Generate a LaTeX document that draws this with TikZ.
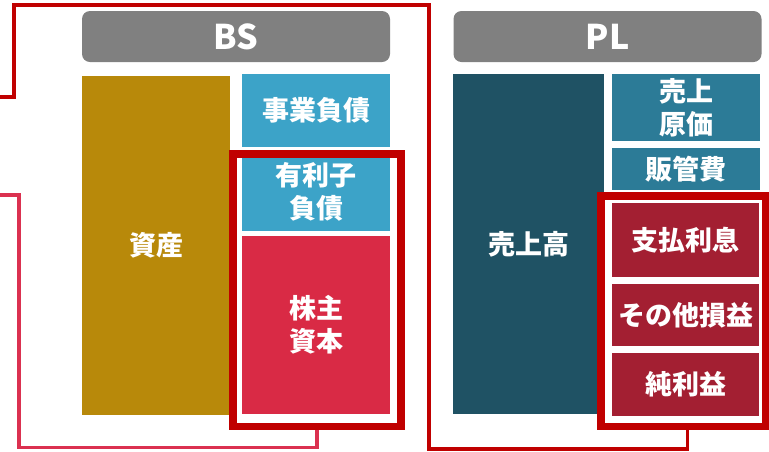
\documentclass[tikz,border=0pt]{standalone}
\usepackage{fontspec}
\setmainfont{Noto Sans CJK JP}
\definecolor{hdr}{HTML}{808080}
\definecolor{gold}{HTML}{B8890A}
\definecolor{lblue}{HTML}{3CA3C8}
\definecolor{crim}{HTML}{D92A45}
\definecolor{dteal}{HTML}{1F5264}
\definecolor{mteal}{HTML}{2C7B97}
\definecolor{dred}{HTML}{A31F32}
\definecolor{frame}{HTML}{C00000}
\definecolor{link}{HTML}{DB3150}
\begin{document}
\begin{tikzpicture}[x=1pt,y=-1pt,
  box/.style={rectangle, inner sep=0pt, text=white, align=center,
    font=\bfseries\fontsize{27}{33}\selectfont},
  header/.style={rectangle, rounded corners=8pt, fill=hdr, inner sep=0pt,
    minimum width=308, minimum height=51, text=white,
    font=\bfseries\fontsize{34}{40}\selectfont},
  redframe/.style={rectangle, draw=frame, line width=7.5pt, inner sep=0pt},
  linkline/.style={line width=3.5pt}]
\useasboundingbox (0,0) rectangle (769,451);
\fill[white] (0,0) rectangle (769,451);
% headers
\node[header] (bs) at (236,36.5) {BS};
\node[header] (pl) at (607.5,36.5) {PL};
% BS
\node[box, fill=gold, minimum width=148, minimum height=339] (asset) at (156,245.5) {資産};
\node[box, fill=lblue, minimum width=148, minimum height=73] (opdebt) at (316,110.5) {事業負債};
\node[box, fill=lblue, minimum width=148, minimum height=79] (ibdebt) at (316,191.5) {有利子\\負債};
\node[box, fill=crim, minimum width=148, minimum height=178] (equity) at (316,325) {株主\\資本};
\node[redframe, minimum width=168, minimum height=272.5] (bsframe) at (317,290.25) {};
% PL
\node[box, fill=dteal, minimum width=151, minimum height=340] (sales) at (528.5,244) {売上高};
\node[box, fill=mteal, minimum width=148, minimum height=67] (cogs) at (686,107.5) {売上\\原価};
\node[box, fill=mteal, minimum width=148, minimum height=42] (sga) at (686,169) {販管費};
\node[box, fill=dred, minimum width=147, minimum height=74] (interest) at (685.5,240) {支払利息};
\node[box, fill=dred, minimum width=147, minimum height=62] (other) at (685.5,315) {その他損益};
\node[box, fill=dred, minimum width=147, minimum height=63] (net) at (685.5,384.5) {純利益};
\node[redframe, minimum width=164.5, minimum height=230.5] (plframe) at (683.25,311.25) {};
% connectors
\coordinate (end1) at (0,97);
\coordinate (end2) at (0,195);
\draw[linkline, frame] ([xshift=4pt]plframe.south) |- (429,449) -- (429,5) -- (14,5) -- (14,97) -- (end1);
\draw[linkline, link] (bsframe.south) |- (19,447.5) -- (19,195) -- (end2);
\end{tikzpicture}
\end{document}
